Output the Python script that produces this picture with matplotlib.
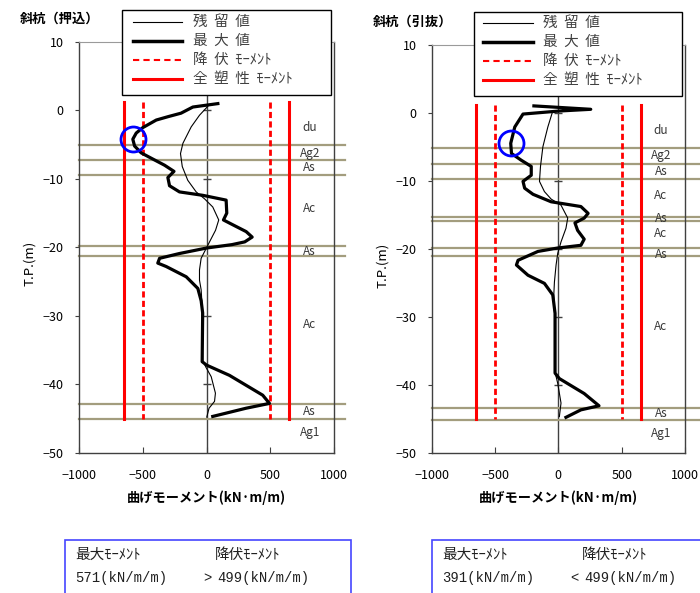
import matplotlib
matplotlib.use("Agg")
import matplotlib.pyplot as plt
from matplotlib.lines import Line2D
from matplotlib.patches import Rectangle
import numpy as np

plt.rcParams["font.family"] = ["Noto Sans CJK JP", "DejaVu Sans"]

W, H = 700, 593

# ---- data: 斜杭(押込) ----
push_max_x = [89, -107, -200, -300, -394, -499, -551, -578, -564, -512, -421, -329, -255, -303,
              -290, -212, -29, 154, 159, 133, 206, 311, 358, 300, 200, 0, -212, -368, -382, -316,
              -159, -68, -42, -30, -34, 0, 180, 441, 494, 311, 49]
push_max_y = [1.0, 0.5, -0.4, -0.9, -1.4, -2.5, -3.3, -4.2, -5.2, -6.2, -7.1, -8.0, -8.9, -9.8,
              -11.0, -11.9, -12.4, -13.1, -15.0, -16.0, -16.7, -17.7, -18.5, -19.2, -19.6, -20.1,
              -20.9, -21.6, -22.3, -22.8, -24.3, -26.0, -27.8, -29.6, -36.7, -37.2, -38.7, -41.6,
              -42.8, -43.5, -44.7]
push_res_x = [10, -55, -120, -185, -204, -190, -147, -81, -16, 49, 96, 71, 10, -42, -55, -55, -42,
              -36, -34, -30, -5, 37, 70, 63, 20, 2]
push_res_y = [0.6, -0.7, -2.4, -4.8, -6.3, -8.2, -10.2, -11.9, -12.9, -14.1, -16.0, -17.5, -19.7,
              -21.6, -23.3, -24.8, -26.2, -28.0, -33.0, -36.5, -37.5, -38.9, -41.3, -42.5, -43.5, -44.8]
push_layers = [-5.05, -7.2, -9.44, -19.8, -21.2, -42.9, -45.1]
push_names = ["du", "Ag2", "As", "Ac", "As", "Ac", "As", "Ag1"]
push_name_y = [-2.5, -6.3, -8.4, -14.3, -20.6, -31.3, -44.0, -47.0]
push_max_val = 571

# ---- data: 斜杭(引抜) ----
pull_max_x = [-193, 256, 8, -279, -344, -376, -370, -292, -214, -214, -279, -266, -200, -57, 178,
              235, 204, 131, 152, 204, 178, -5, -161, -318, -331, -240, -110, -44, -26, -26, 8,
              204, 321, 178, 60]
pull_max_y = [1.0, 0.5, 0.25, -0.2, -2.1, -4.5, -6.0, -7.0, -7.9, -9.2, -10.1, -11.1, -12.0,
              -13.1, -13.8, -14.8, -15.5, -16.2, -17.3, -18.6, -19.5, -19.9, -20.4, -21.7, -22.4,
              -23.9, -25.1, -26.8, -29.5, -38.3, -39.1, -41.3, -43.1, -43.7, -44.8]
pull_res_x = [-44, -83, -122, -141, -149, -110, -57, 21, 74, 60, 21, -5, -18, -31, -36, -30, -28,
              -5, 21, 8]
pull_res_y = [0.25, -2.1, -5.0, -7.9, -10.1, -11.6, -12.7, -13.6, -15.5, -17.0, -19.0, -20.7,
              -22.4, -24.9, -26.8, -29.5, -38.0, -39.8, -42.7, -44.7]
pull_layers = [-5.15, -7.5, -9.75, -15.3, -16.0, -19.85, -21.1, -43.5, -45.2]
pull_names = ["du", "Ag2", "As", "Ac", "As", "Ac", "As", "Ac", "As", "Ag1"]
pull_name_y = [-2.6, -6.3, -8.6, -12.2, -15.6, -17.8, -20.8, -31.5, -44.3, -47.2]
pull_max_val = 391

yield_moment = 499
plastic_moment = 650
pile_top, pile_bottom = 1.2, -45.1

x_ticks = [-1000, -500, 0, 500, 1000]
y_ticks = [10, 0, -10, -20, -30, -40, -50]
legend_labels = ["残  留  値", "最  大  値", "降  伏  ﾓｰﾒﾝﾄ", "全  塑  性  ﾓｰﾒﾝﾄ"]

LAYER_COLOR = "#a39d7e"
RED = "#ff0000"
SPINE = "#404040"


def fx(px):
    return px / W


def fy(py):
    return 1 - py / H


def draw_panel(ax, max_x, max_y, res_x, res_y, layers, names, name_y, layer_xmax):
    ax.set_xlim(-1000, 1000)
    ax.set_ylim(-50, 10)
    ax.axvline(0, color=SPINE, lw=1.0, zorder=1)
    ax.plot([0] * 5, [0, -10, -20, -30, -40], ls="none", marker="_", ms=6, mew=1.0,
            color=SPINE, zorder=1)

    for y in layers:
        ax.plot([-1000, layer_xmax], [y, y], color=LAYER_COLOR, lw=1.6, clip_on=False, zorder=2)
    for name, y in zip(names, name_y):
        ax.text(810, y, name, ha="center", va="center", fontsize=8.5, color="#383838")

    for v in [-plastic_moment, plastic_moment]:
        ax.plot([v, v], [pile_top, pile_bottom], color=RED, lw=2.2, zorder=3)
    for v in [-yield_moment, yield_moment]:
        ax.plot([v, v], [pile_top, pile_bottom], color=RED, lw=2.0, ls=(0, (2.2, 1.2)), zorder=3)

    ax.plot(res_x, res_y, color="black", lw=0.8, zorder=4)
    ax.plot(max_x, max_y, color="black", lw=2.3, zorder=5)

    # circle on the largest moment
    i = int(np.argmax(np.abs(max_x)))
    ax.plot(max_x[i], max_y[i], marker="o", ms=18, mfc="none", mec="#0000ff", mew=2.0, zorder=6)

    ax.set_xticks(x_ticks)
    ax.set_xticklabels(["−1000", "−500", "0", "500", "1000"])
    ax.set_yticks(y_ticks)
    ax.set_yticklabels([str(t).replace("-", "−") for t in y_ticks])
    ax.tick_params(axis="x", direction="in", length=4, labelsize=9, pad=12, color=SPINE)
    ax.tick_params(axis="y", direction="out", length=3, labelsize=9, pad=8, color=SPINE)
    for s in ["left", "bottom", "right"]:
        ax.spines[s].set_color(SPINE)
        ax.spines[s].set_linewidth(1.0)
    ax.spines["top"].set_color("#9a9a9a")
    ax.spines["top"].set_linewidth(0.8)
    ax.set_xlabel("曲げモーメント(kN·m/m)", fontsize=9.5, fontweight="bold", labelpad=6)
    ax.set_ylabel("T.P.(m)", fontsize=9.5)


def draw_legend(fig, x0, y0, x1, y1, rows, line_x0, line_x1, text_x):
    fig.add_artist(Rectangle((fx(x0), fy(y1)), fx(x1) - fx(x0), fy(y0) - fy(y1),
                             transform=fig.transFigure, facecolor="white", edgecolor="black",
                             lw=1.0, zorder=10))
    styles = [dict(color="black", lw=0.8), dict(color="black", lw=2.5),
              dict(color=RED, lw=1.5, ls=(0, (3, 2))), dict(color=RED, lw=2.2)]
    for label, row, st in zip(legend_labels, rows, styles):
        fig.add_artist(Line2D([fx(line_x0), fx(line_x1)], [fy(row), fy(row)],
                              transform=fig.transFigure, zorder=11, **st))
        fig.text(fx(text_x), fy(row), label, fontsize=10.5, color="#404040", va="center",
                 ha="left", zorder=12)


def draw_box(fig, x0, x1, value, sign):
    fig.add_artist(Rectangle((fx(x0), fy(605)), fx(x1) - fx(x0), fy(540) - fy(605),
                             transform=fig.transFigure, facecolor="white", edgecolor="#4646ff",
                             lw=1.2, clip_on=False))
    fam = ["Noto Sans CJK JP", "DejaVu Sans"]
    mono = ["Liberation Mono", "Noto Sans CJK JP"]
    fig.text(fx(x0 + 10), fy(555), "最大ﾓｰﾒﾝﾄ", fontsize=10.5, va="center", family=fam, color="#202020")
    fig.text(fx(x0 + 150), fy(555), "降伏ﾓｰﾒﾝﾄ", fontsize=10.5, va="center", family=fam, color="#202020")
    fig.text(fx(x0 + 10), fy(578), f"{value}(kN/m/m)", fontsize=10, va="center", family=mono,
             color="#202020")
    fig.text(fx(x0 + 138), fy(578), sign, fontsize=10, va="center", family=mono, color="#202020")
    fig.text(fx(x0 + 152), fy(578), f"{yield_moment}(kN/m/m)", fontsize=10, va="center",
             family=mono, color="#202020")


fig = plt.figure(figsize=(7, 5.93), dpi=100)
ax1 = fig.add_axes([fx(79), fy(452.7), fx(334) - fx(79), fy(42) - fy(452.7)])
ax2 = fig.add_axes([fx(431.7), fy(452.7), fx(685) - fx(431.7), fy(44.7) - fy(452.7)])

draw_panel(ax1, push_max_x, push_max_y, push_res_x, push_res_y, push_layers, push_names,
           push_name_y, 1085)
draw_panel(ax2, pull_max_x, pull_max_y, pull_res_x, pull_res_y, pull_layers, pull_names,
           pull_name_y, 1120)
ax1.yaxis.set_label_coords(-0.17, 0.46)
ax2.yaxis.set_label_coords(-0.17, 0.46)

fig.text(fx(60), fy(19), "斜杭（押込）", fontsize=9.5, fontweight="bold", ha="center", va="center")
fig.text(fx(413), fy(22), "斜杭（引抜）", fontsize=9.5, fontweight="bold", ha="center", va="center")

draw_legend(fig, 122, 10, 331, 95, [22, 41, 60, 79], 133, 182, 193)
draw_legend(fig, 474, 12, 682, 96, [23, 42, 61, 80], 483, 533, 543)

draw_box(fig, 65, 351, push_max_val, ">")
draw_box(fig, 432, 720, pull_max_val, "<")

fig.savefig("out.png", dpi=100)
